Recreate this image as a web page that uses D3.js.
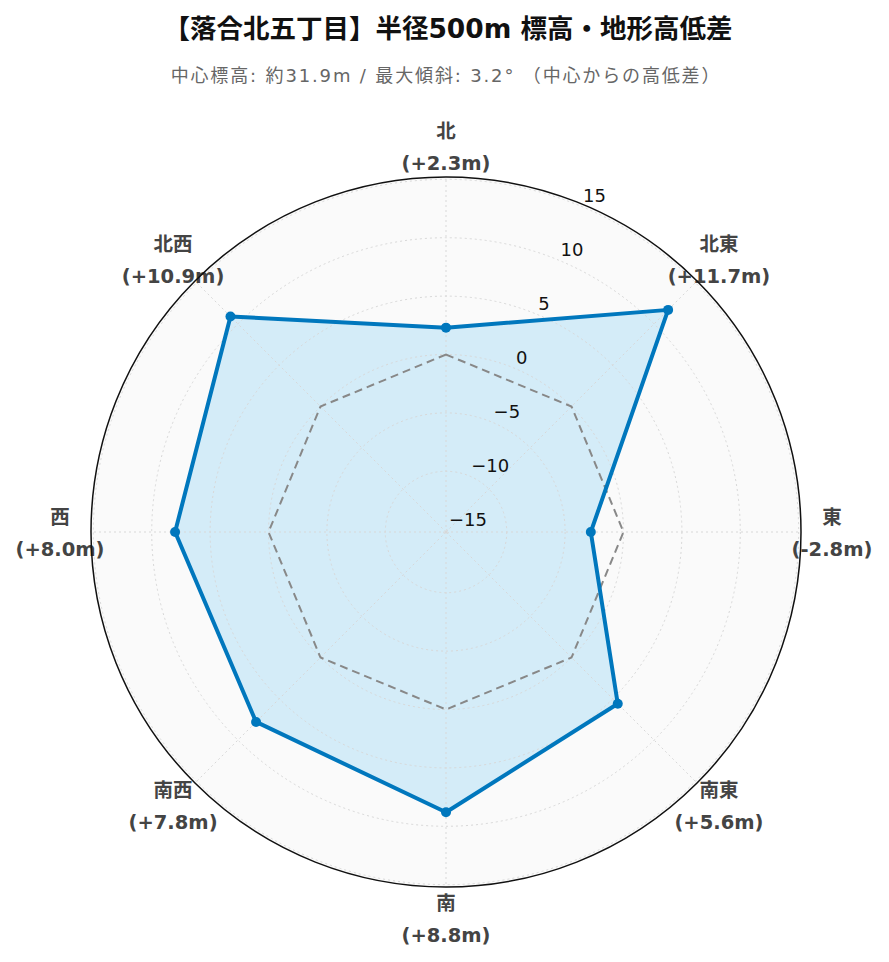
<!DOCTYPE html>
<html>
<head>
<meta charset="utf-8">
<script src="https://cdn.jsdelivr.net/npm/d3@7"></script>
<style>
  body { margin: 0; background: #fff; }
  svg { display: block; }
</style>
</head>
<body>
<div id="chart"></div>
<script>
// data
const directions = ["北", "北東", "東", "南東", "南", "南西", "西", "北西"];
const diffs = [2.3, 11.7, -2.8, 5.6, 8.8, 7.8, 8.0, 10.9];
const radialTicks = [-15, -10, -5, 0, 5, 10, 15];
const titleText = "【落合北五丁目】半径500m 標高・地形高低差";
const subtitleText = "中心標高: 約31.9m / 最大傾斜: 3.2° （中心からの高低差）";

const width = 889, height = 962;
const cx = 446, cy = 532, outerR = 355;
const fontMain = "Verdana, 'DejaVu Sans', 'Noto Sans CJK JP', sans-serif";

const svg = d3.select("#chart")
  .append("svg")
  .attr("width", width)
  .attr("height", height);

// title
svg.append("text")
  .attr("x", 448)
  .attr("y", 38)
  .attr("text-anchor", "middle")
  .attr("font-family", fontMain)
  .style("font-size", "26.5px")
  .style("font-weight", "bold")
  .style("fill", "#111")
  .text(titleText);

svg.append("text")
  .attr("x", 446)
  .attr("y", 82)
  .attr("text-anchor", "middle")
  .attr("font-family", fontMain)
  .style("font-size", "18px")
  .style("letter-spacing", "1.85px")
  .style("fill", "#666")
  .text(subtitleText);

// scales
const r = d3.scaleLinear()
  .domain([-15.2, 15.2])
  .range([0, outerR]);

const angle = d3.scaleLinear()
  .domain([0, directions.length])
  .range([0, 2 * Math.PI]);

const g = svg.append("g")
  .attr("transform", `translate(${cx}, ${cy})`);

// background
g.append("circle")
  .attr("r", outerR)
  .attr("fill", "#fafafa");

// data area
const radial = d3.lineRadial()
  .angle((d, i) => angle(i))
  .radius(d => r(d))
  .curve(d3.curveLinearClosed);

g.append("path")
  .datum(diffs)
  .attr("d", radial)
  .attr("fill", "#d4ecf8");

// grid circles
g.selectAll(".grid-circle")
  .data(radialTicks)
  .join("circle")
  .attr("class", "grid-circle")
  .attr("r", d => r(d))
  .attr("fill", "none")
  .attr("stroke", "#d8d8d8")
  .attr("stroke-width", 1)
  .attr("stroke-dasharray", "2,3");

// spokes
g.selectAll(".spoke")
  .data(directions)
  .join("line")
  .attr("class", "spoke")
  .attr("x1", 0).attr("y1", 0)
  .attr("x2", (d, i) => outerR * Math.sin(angle(i)))
  .attr("y2", (d, i) => -outerR * Math.cos(angle(i)))
  .attr("stroke", "#d8d8d8")
  .attr("stroke-width", 1)
  .attr("stroke-dasharray", "2,3");

// zero reference line
g.append("path")
  .datum(directions.map(() => 0))
  .attr("d", radial)
  .attr("fill", "none")
  .attr("stroke", "#888")
  .attr("stroke-width", 2)
  .attr("stroke-dasharray", "8,5");

// data line
g.append("path")
  .datum(diffs)
  .attr("d", radial)
  .attr("fill", "none")
  .attr("stroke", "#0077bd")
  .attr("stroke-width", 4)
  .attr("stroke-linejoin", "round");

g.selectAll(".dot")
  .data(diffs)
  .join("circle")
  .attr("class", "dot")
  .attr("cx", (d, i) => r(d) * Math.sin(angle(i)))
  .attr("cy", (d, i) => -r(d) * Math.cos(angle(i)))
  .attr("r", 5)
  .attr("fill", "#0077bd");

// radial tick labels (axis at 22.5deg from north)
const axisAng = Math.PI / 8;
g.selectAll(".rtick")
  .data(radialTicks)
  .join("text")
  .attr("class", "rtick")
  .attr("x", d => r(d) * Math.sin(axisAng) + 2)
  .attr("y", d => -r(d) * Math.cos(axisAng) - 4)
  .attr("text-anchor", "start")
  .attr("font-family", fontMain)
  .style("font-size", "18px")
  .style("fill", "#111")
  .text(d => d < 0 ? "\u2212" + Math.abs(d) : d);

// angular labels
const labelR = 386;
const lab = g.selectAll(".alabel")
  .data(directions)
  .join("text")
  .attr("class", "alabel")
  .attr("text-anchor", "middle")
  .attr("font-family", fontMain)
  .style("font-size", "19.5px")
  .style("font-weight", "bold")
  .style("fill", "#444")
  .attr("transform", (d, i) =>
    `translate(${labelR * Math.sin(angle(i))}, ${-labelR * Math.cos(angle(i))})`);

lab.append("tspan")
  .attr("x", 0)
  .attr("y", -8)
  .text(d => d);

lab.append("tspan")
  .attr("x", 0)
  .attr("y", 24)
  .text((d, i) => `(${diffs[i] >= 0 ? "+" : ""}${diffs[i].toFixed(1)}m)`);

// outer circle on top
g.append("circle")
  .attr("r", outerR)
  .attr("fill", "none")
  .attr("stroke", "#111")
  .attr("stroke-width", 1.5);
</script>
</body>
</html>
